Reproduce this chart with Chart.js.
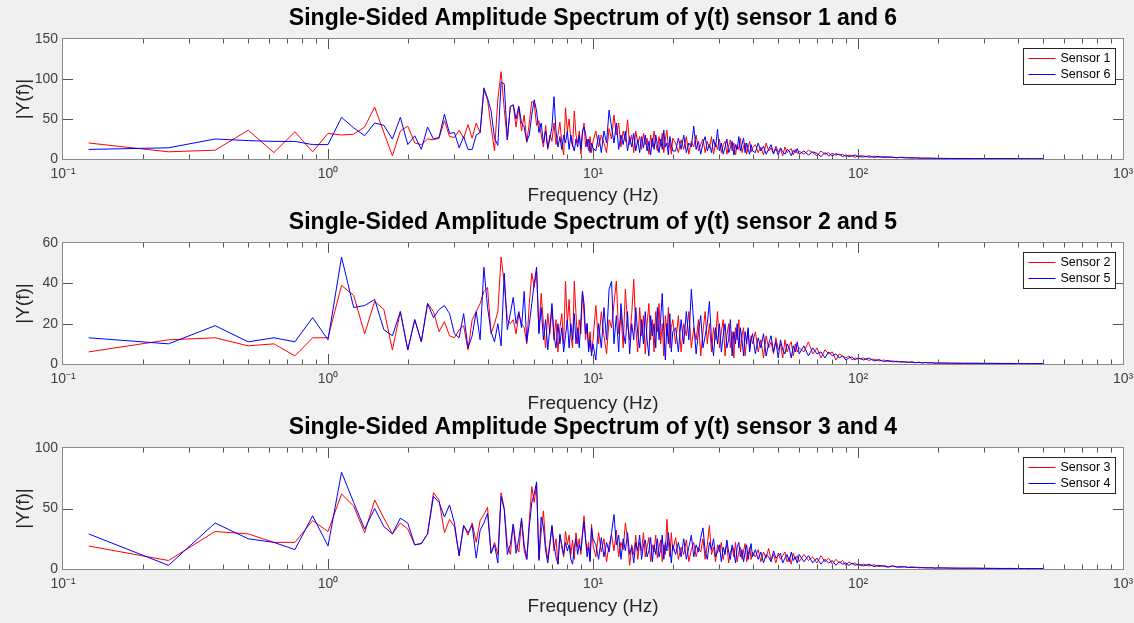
<!DOCTYPE html>
<html>
<head>
<meta charset="utf-8">
<script src="https://cdn.jsdelivr.net/npm/chart.js@4.4.1/dist/chart.umd.min.js"></script>
<style>
html,body{margin:0;padding:0;background:#f0f0f0;}
body{width:1134px;height:623px;position:relative;overflow:hidden;}
canvas{position:absolute;left:0;display:block;}
</style>
</head>
<body>
<canvas id="c1" width="1134" height="207" style="top:0px"></canvas>
<canvas id="c2" width="1134" height="208" style="top:207px"></canvas>
<canvas id="c3" width="1134" height="208" style="top:415px"></canvas>
<script>
// ---------------- DATA ----------------
const freqs = [
0.125,0.25,0.375,0.5,0.625,0.75,0.875,1,1.125,1.25,
1.375,1.5,1.625,1.75,1.875,2,2.125,2.25,2.375,2.5,
2.625,2.75,2.875,3,3.125,3.25,3.375,3.5,3.625,3.75,
3.875,4,4.125,4.25,4.375,4.5,4.625,4.75,4.875,5,
5.125,5.25,5.375,5.5,5.625,5.75,5.875,6,6.125,6.25,
6.375,6.5,6.625,6.75,6.875,7,7.125,7.25,7.375,7.5,
7.625,7.75,7.875,8,8.125,8.25,8.375,8.5,8.625,8.75,
8.875,9,9.125,9.25,9.375,9.5,9.625,9.75,9.875,10,
10.25,10.5,10.75,11,11.25,11.5,11.75,12,12.25,12.5,
12.75,13,13.25,13.5,13.75,14,14.25,14.5,14.75,15,
15.25,15.5,15.75,16,16.25,16.5,16.75,17,17.25,17.5,
17.75,18,18.25,18.5,18.75,19,19.25,19.5,19.75,20,
20.5,21,21.5,22,22.5,23,23.5,24,24.5,25,
25.5,26,26.5,27,27.5,28,28.5,29,29.5,30,
30.5,31,31.5,32,32.5,33,33.5,34,34.5,35,
35.5,36,36.5,37,37.5,38,38.5,39,39.5,40,
41,42,43,44,45,46,47,48,49,50,
51,52,53,54,55,56,57,58,59,60,
62.5,65,67.5,70,72.5,75,77.5,80,82.5,85,
87.5,90,92.5,95,97.5,100,
105,110,115,120,125,130,135,140,145,150,
155,160,165,170,175,180,185,190,195,200,
225,250,275,300,325,350,375,400,425,450,475,500
];

const sensor1 = [
20,9,11,36,8,34,9,32,30,31,
40,65,33,4,35,41,20,18,25,24,
26,48,28,27,36,26,43,26,45,33,
86,74,40,10,75,109,62,24,66,67,
40,64,35,55,21,45,72,70,42,48,
30,15,42,12,30,22,45,18,30,46,
20,5,64,35,50,25,15,60,30,20,
35,6,30,45,15,25,10,28,8,22,
35,15,30,20,8,38,25,55,30,45,
15,35,22,49,18,30,8,35,20,28,
12,32,18,26,6,30,15,35,20,10,
28,16,32,8,25,36,14,22,6,26,
20,8,24,12,28,6,22,15,30,10,
18,25,8,22,14,28,6,20,12,25,
8,18,22,6,16,24,10,20,5,18,
12,26,8,16,20,6,15,22,9,14,
18,8,15,5,20,10,14,6,16,9,
12,4,15,8,11,13,5,12,7,10,
6,11,8,4,10,6,8,3,7,5,
6,3,5,4,2,4,
4,2,3.5,2.5,3,1.8,2.5,1.5,2,2.2,
1.2,1.8,1.4,1,1.3,0.9,1.1,0.8,1,0.7,
0.7,0.6,0.6,0.5,0.5,0.4,0.4,0.4,0.3,0.3,0.3,0.3
];

const sensor6 = [
12,14,25,23,22,22,18,18,52,39,
29,45,42,25,52,18,29,12,40,25,
27,56,32,33,14,28,12,12,30,33,
89,76,60,26,17,96,94,24,65,68,
50,66,45,40,22,30,55,74,60,33,
45,20,35,14,25,40,78,35,15,28,
12,30,20,35,12,30,18,10,25,15,
30,12,35,40,32,15,25,8,20,14,
10,30,8,35,20,61,40,20,45,12,
30,18,35,10,28,15,32,10,24,8,
28,14,30,10,22,5,26,12,30,18,
8,25,12,36,15,20,5,28,18,10,
10,26,12,30,8,20,15,41,12,22,
6,20,28,10,18,8,25,15,37,10,
20,6,15,25,8,14,22,5,18,12,
28,10,18,26,8,20,12,6,18,10,
8,20,10,16,6,12,18,7,13,5,
14,9,6,12,10,4,11,8,13,6,
10,5,9,7,3,8,4,7,5,6,
3,5,3,4,5,3,
2.5,4,2,3,1.8,2.8,2,1.6,2.2,1.3,
1.7,1,1.5,1.2,0.8,1.1,0.9,1,0.7,0.8,
0.6,0.7,0.5,0.5,0.4,0.5,0.4,0.3,0.4,0.3,0.3,0.3
];

const sensor2 = [
6,12,13,9,10,4,13,13,39,34,
15,31,27,7,26,7,22,11,30,26,
16,21,14,13,17,19,7,22,26,30,
36,38,15,20,26,53,40,22,20,22,
15,25,20,18,10,30,45,38,46,16,
35,20,8,25,15,28,12,22,6,18,
25,10,41,20,32,14,8,41,25,10,
22,15,36,25,12,20,8,16,6,12,
29,10,26,14,5,22,18,30,41,15,
25,8,37,20,12,25,42,18,6,28,
14,24,5,20,30,12,22,6,26,16,
30,10,20,4,24,14,28,8,18,22,
10,24,6,20,14,26,8,18,12,22,
4,16,26,10,20,6,18,12,26,8,
16,22,4,14,20,8,16,3,18,12,
22,6,14,18,4,12,17,7,14,10,
16,6,12,3,14,8,11,5,13,7,
10,3,12,6,9,11,4,10,6,8,
6,11,5,8,3,7,5,6,2,5,
4,3,4,2,3,2.5,
3,1.8,2.5,1.5,2,1.2,1.6,1,1.3,1,
0.9,1.1,0.7,0.9,0.6,0.8,0.6,0.7,0.5,0.5,
0.4,0.4,0.3,0.3,0.3,0.3,0.2,0.2,0.2,0.2,0.2,0.2
];

const sensor5 = [
13,10,19,11,13,11,23,12,53,28,
29,32,17,14,26,7,22,11,30,23,
27,29,25,15,13,25,8,14,26,12,
48,28,16,11,20,9,45,17,25,33,
20,26,18,36,11,20,30,40,48,15,
28,12,22,7,18,30,14,8,20,10,
18,6,14,22,8,20,12,25,10,18,
8,22,36,30,15,20,6,12,4,10,
2,20,8,28,12,37,41,10,24,6,
30,16,10,26,5,20,12,28,15,8,
22,10,26,12,4,24,14,20,8,28,
12,22,35,16,2,20,10,25,6,16,
18,6,22,10,26,12,37,20,5,16,
24,8,14,20,31,12,4,18,10,20,
6,14,20,8,12,22,4,16,10,20,
8,18,12,4,16,10,18,6,12,15,
5,13,8,15,4,10,14,6,11,3,
12,7,5,10,8,3,9,6,11,5,
9,4,8,5,6,3,6,4,5,3,
4,2,3,3.5,2,3,
2,3,1.5,2.2,1.2,1.8,1,1.4,0.9,1.1,
0.8,0.9,0.6,0.8,0.5,0.7,0.5,0.6,0.4,0.5,
0.4,0.3,0.4,0.3,0.3,0.2,0.3,0.2,0.2,0.2,0.2,0.2
];

const sensor3 = [
19,7,31,29,22,22,40,31,62,52,
30,57,42,29,38,33,20,21,29,63,
57,30,41,35,11,36,28,38,22,40,
45,51,13,22,12,63,50,20,12,37,
20,14,40,15,8,40,68,55,70,7,
30,48,20,8,22,35,15,25,4,29,
18,10,31,20,28,12,24,8,30,18,
25,12,30,44,25,15,22,8,37,20,
10,30,14,25,6,20,28,15,32,10,
22,16,38,25,3,20,12,28,8,22,
15,30,10,18,26,6,20,14,28,9,
18,24,6,20,12,41,22,10,30,15,
26,8,18,12,24,6,16,22,10,18,
14,25,8,20,36,12,18,6,20,14,
22,8,16,20,5,14,18,10,22,6,
14,18,8,15,21,6,12,18,8,14,
10,16,6,14,9,17,7,12,5,13,
8,11,14,6,10,4,13,8,11,6,
12,7,10,5,11,6,9,4,8,5,
7,3,6,4,5,3,
4,2.5,3.5,2,3,1.8,2.6,1.5,2.2,1.6,
1.4,1.8,1.1,1.5,1,1.3,0.9,1.1,0.8,1,
0.8,0.7,0.6,0.6,0.5,0.5,0.4,0.4,0.4,0.3,0.3,0.3
];

const sensor4 = [
29,3,38,25,22,16,44,19,80,55,
33,50,35,29,42,38,20,21,29,60,
55,43,53,38,11,36,30,36,9,32,
38,46,13,20,5,60,49,12,20,37,
13,25,42,20,8,35,55,62,72,8,
43,35,15,5,20,36,20,10,4,28,
20,12,22,15,20,8,4,18,25,12,
20,15,28,39,24,10,18,6,34,25,
20,8,26,10,22,14,30,45,20,28,
8,25,15,30,12,18,5,22,15,28,
8,20,24,10,15,26,6,20,12,25,
10,16,28,8,22,15,30,18,5,20,
12,22,10,25,8,18,28,10,20,14,
26,34,15,8,22,16,25,10,14,20,
6,18,12,24,14,8,20,15,5,18,
22,10,16,6,14,20,8,15,21,10,
16,8,14,5,12,10,6,15,9,11,
13,5,9,12,6,14,7,10,5,12,
6,11,5,9,4,8,5,7,3,6,
4,5,3,5,3,4,
2.5,4,2,3,2.2,1.5,2.5,1.8,1.4,2,
1.2,1.3,1.5,0.9,1.2,0.8,1,0.9,0.7,0.9,
0.7,0.6,0.7,0.5,0.5,0.4,0.5,0.4,0.3,0.4,0.3,0.3
];

const xTickValues = [0.1, 1, 10, 100, 1000];
const xTickLabels = ['10\u207B\u00B9', '10\u2070', '10\u00B9', '10\u00B2', '10\u00B3'];
const titles = [
  'Single-Sided Amplitude Spectrum of y(t) sensor 1 and 6',
  'Single-Sided Amplitude Spectrum of y(t) sensor 2 and 5',
  'Single-Sided Amplitude Spectrum of y(t) sensor 3 and 4'
];
const yMaxes = [150, 60, 100];
const ySteps = [50, 20, 50];
const legendLabels = [['Sensor 1','Sensor 6'], ['Sensor 2','Sensor 5'], ['Sensor 3','Sensor 4']];
const seriesPairs = [[sensor1, sensor6], [sensor2, sensor5], [sensor3, sensor4]];

// ---------------- STYLE / LAYOUT ----------------
const FONT = '"Liberation Sans", Arial, Helvetica, sans-serif';
const RED = '#ff0000', BLUE = '#0000ff';
const layouts = [
  {id:'c1', padTop:39, axisH:48, xTitlePad:0},
  {id:'c2', padTop:36, axisH:51, xTitlePad:0},
  {id:'c3', padTop:33, axisH:54, xTitlePad:5}
];

Chart.defaults.font.family = FONT;

const matlabAxes = {
  id: 'matlabAxes',
  beforeDraw(chart) {
    const {ctx, chartArea: a} = chart;
    ctx.save();
    ctx.fillStyle = '#ffffff';
    ctx.fillRect(a.left, a.top, a.right - a.left, a.bottom - a.top);
    ctx.restore();
  },
  afterDraw(chart, args, opts) {
    const {ctx, chartArea: a, scales} = chart;
    const xs = scales.x, ys = scales.y;
    ctx.save();
    // ticks
    ctx.strokeStyle = '#555555';
    ctx.lineWidth = 1;
    ctx.beginPath();
    for (let e = -1; e <= 2; e++) {
      const d = Math.pow(10, e);
      for (let k = 1; k <= 9; k++) {
        const v = k * d;
        if (v <= xs.min * 1.0001 || v >= xs.max * 0.9999) continue;
        const px = Math.round(xs.getPixelForValue(v)) + 0.5;
        const len = (k === 1) ? 10 : 4.5;
        ctx.moveTo(px, a.top); ctx.lineTo(px, a.top + len);
        ctx.moveTo(px, a.bottom); ctx.lineTo(px, a.bottom - len);
      }
    }
    ys.ticks.forEach(t => {
      if (t.value <= ys.min || t.value >= ys.max) return;
      const py = Math.round(ys.getPixelForValue(t.value)) + 0.5;
      ctx.moveTo(a.left, py); ctx.lineTo(a.left + 10, py);
      ctx.moveTo(a.right, py); ctx.lineTo(a.right - 10, py);
    });
    ctx.stroke();
    // box
    ctx.strokeStyle = '#8a8a8a';
    ctx.strokeRect(Math.round(a.left) - 0.5, Math.round(a.top) - 0.5,
                   Math.round(a.right - a.left) + 1, Math.round(a.bottom - a.top) + 1);
    // title
    ctx.fillStyle = '#000000';
    ctx.font = 'bold 23px ' + FONT;
    ctx.textAlign = 'center';
    ctx.textBaseline = 'middle';
    ctx.fillText(opts.title, (a.left + a.right) / 2, a.top - 20);
    // legend
    const lw = 92, lh = 36;
    const lx = Math.round(a.right - 8 - lw) + 0.5, ly = Math.round(a.top + 9) + 0.5;
    ctx.fillStyle = '#ffffff';
    ctx.fillRect(lx, ly, lw, lh);
    ctx.strokeStyle = '#262626';
    ctx.strokeRect(lx, ly, lw, lh);
    ctx.font = '12.5px ' + FONT;
    ctx.textAlign = 'left';
    chart.data.datasets.forEach((ds, i) => {
      const ry = Math.round(ly + 9 + i * 16) + 0.5;
      ctx.strokeStyle = ds.borderColor;
      ctx.lineWidth = 1;
      ctx.beginPath();
      ctx.moveTo(lx + 5, ry); ctx.lineTo(lx + 32, ry);
      ctx.stroke();
      ctx.fillStyle = '#000000';
      ctx.fillText(ds.label, lx + 37, ry + 0.5);
    });
    ctx.restore();
  }
};

function makeChart(p) {
  const L = layouts[p];
  const [redVals, blueVals] = seriesPairs[p];
  const toPts = vals => freqs.map((f, i) => ({x: f, y: vals[i]}));
  new Chart(document.getElementById(L.id), {
    type: 'line',
    data: {
      datasets: [
        {label: legendLabels[p][0], data: toPts(redVals), borderColor: RED, backgroundColor: RED,
         borderWidth: 1, pointRadius: 0, tension: 0, fill: false, order: 1},
        {label: legendLabels[p][1], data: toPts(blueVals), borderColor: BLUE, backgroundColor: BLUE,
         borderWidth: 1, pointRadius: 0, tension: 0, fill: false, order: 0}
      ]
    },
    options: {
      responsive: false,
      animation: false,
      events: [],
      layout: {padding: {left: 0, right: 11, top: L.padTop, bottom: 0}},
      plugins: {
        legend: {display: false},
        tooltip: {enabled: false},
        matlabAxes: {title: titles[p]}
      },
      scales: {
        x: {
          type: 'logarithmic',
          min: 0.1, max: 1000,
          grid: {display: false, drawTicks: false},
          border: {display: false},
          afterBuildTicks: s => { s.ticks = xTickValues.map(v => ({value: v})); },
          ticks: {
            autoSkip: false, maxRotation: 0, minRotation: 0, padding: 7,
            color: '#404040', font: {size: 14, family: FONT},
            callback: (v, i) => xTickLabels[i]
          },
          title: {display: true, text: 'Frequency (Hz)', color: '#262626',
                  font: {size: 19, family: FONT}, padding: {top: 0, bottom: L.xTitlePad}},
          afterFit: s => { s.height = L.axisH; s.paddingLeft = 0; s.paddingRight = 0; }
        },
        y: {
          min: 0, max: yMaxes[p],
          grid: {display: false, drawTicks: false},
          border: {display: false},
          ticks: {stepSize: ySteps[p], padding: 5, color: '#404040', font: {size: 14, family: FONT}},
          title: {display: true, text: '|Y(f)|', color: '#262626',
                  font: {size: 19, family: FONT}, padding: {top: 12, bottom: 0}},
          afterFit: s => { s.width = 63; s.paddingTop = 0; s.paddingBottom = 0; }
        }
      }
    },
    plugins: [matlabAxes]
  });
}

[0, 1, 2].forEach(makeChart);
</script>
</body>
</html>
